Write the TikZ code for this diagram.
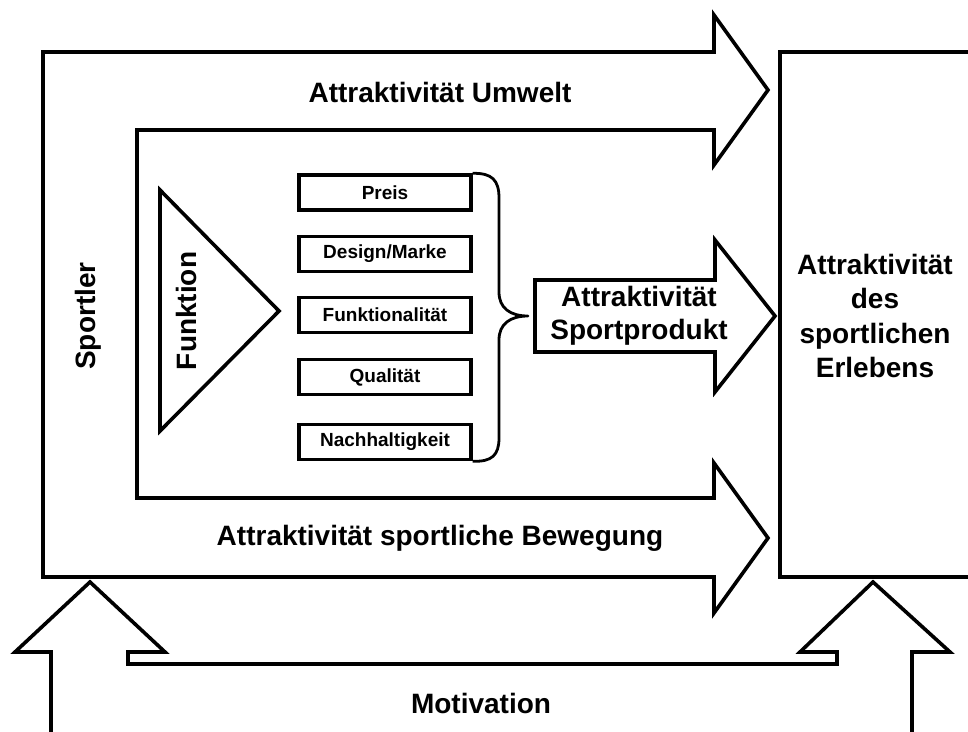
\documentclass[tikz,border=0pt]{standalone}
\usepackage{fontspec}
\setmainfont{Liberation Sans}
\tikzset{
  shapeline/.style={line width=3.6pt, line join=miter},
  bigtext/.style={font=\fontsize{28}{34}\selectfont\bfseries, inner sep=0pt, align=center},
  smalltext/.style={font=\fontsize{19}{23}\selectfont\bfseries},
  itembox/.style={draw, line width=3.4pt, minimum width=172pt, minimum height=35pt, inner sep=0pt, smalltext},
  bracelin/.style={line width=2.8pt, line join=round}
}
\begin{document}
\begin{tikzpicture}[x=1pt,y=-1pt]
\useasboundingbox (0,0) rectangle (968,731);
\clip (0,0) rectangle (968,731);

% outer frame with the two big arrows
\draw[shapeline] (43,52) -- (714,52) -- (714,15) -- (768,90) -- (714,165) -- (714,130)
  -- (137,130) -- (137,498) -- (714,498) -- (714,463) -- (768,538) -- (714,613)
  -- (714,577) -- (43,577) -- cycle;

% right box
\draw[shapeline] (980,52) -- (780,52) -- (780,577) -- (980,577);

% middle arrow
\draw[shapeline] (535,280) -- (715,280) -- (715,240) -- (775,316) -- (715,392)
  -- (715,352) -- (535,352) -- cycle;

% triangle
\draw[shapeline] (160,190) -- (279,311) -- (160,431) -- cycle;

% motivation U-arrow
\draw[shapeline] (51,745) -- (51,652) -- (15,652) -- (90,582) -- (165,652) -- (128,652)
  -- (128,664) -- (837,664) -- (837,652) -- (800,652) -- (873,582) -- (950,652)
  -- (912,652) -- (912,745);

% item boxes
\node[itembox] (p1) at (385,192.5) {Preis};
\node[itembox] (p2) at (385,254) {Design/Marke};
\node[itembox] (p3) at (385,315) {Funktionalität};
\node[itembox] (p4) at (385,377) {Qualität};
\node[itembox] (p5) at (385,442) {Nachhaltigkeit};

% brace
\draw[bracelin] (p1.north east) .. controls (492,173) and (499,180) .. (499,198)
  -- (499,292) .. controls (499,308) and (510,316) .. (528,316)
  .. controls (510,316) and (499,324) .. (499,340)
  -- (499,438) .. controls (499,455) and (492,462) .. (p5.south east);

% texts
\node[bigtext, anchor=base] (umwelt) at (440,102) {Attraktivität Umwelt};
\node[bigtext, anchor=base] (bewegung) at (440,545) {Attraktivität sportliche Bewegung};
\node[bigtext, anchor=base] (motivation) at (481,713) {Motivation};
\node[bigtext, rotate=90] (sportler) at (88,316) {Sportler};
\node[bigtext, rotate=90] (funktion) at (186,311) {Funktion};
\node[bigtext, font=\fontsize{28}{33}\selectfont\bfseries] (produkt) at (639,316) {Attraktivität\\Sportprodukt};
\node[bigtext, font=\fontsize{28}{34.3}\selectfont\bfseries] (erleben) at (875,316) {Attraktivität\\des\\sportlichen\\Erlebens};
\end{tikzpicture}
\end{document}
